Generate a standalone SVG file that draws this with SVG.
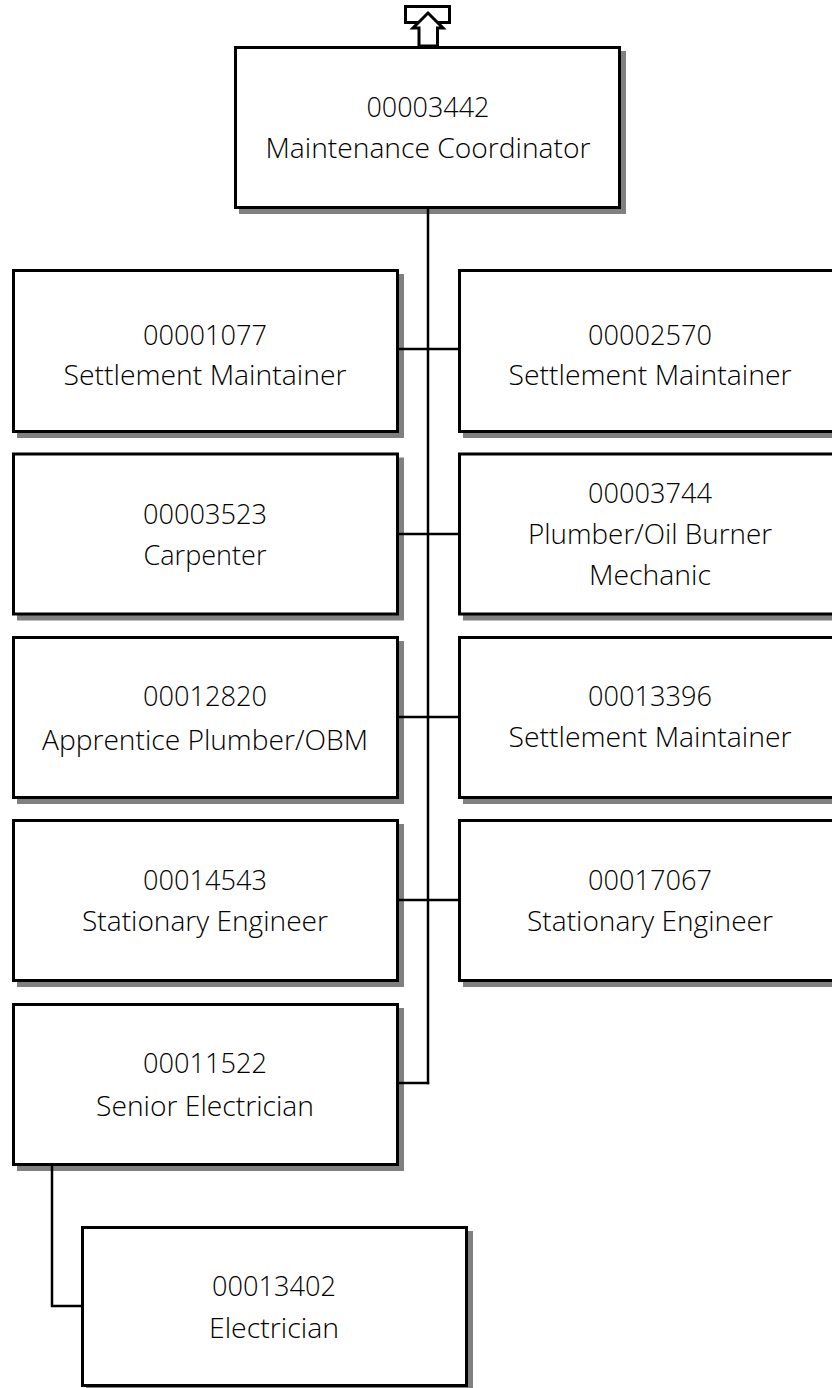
<svg xmlns="http://www.w3.org/2000/svg" width="832" height="1388" viewBox="0 0 832 1388">
<style>
.sh{fill:#808080}
.bx{fill:#fff;stroke:#000;stroke-width:3}
.t{font-family:"Open Sans","Liberation Sans",sans-serif;font-weight:300;font-size:27px;fill:#000;text-anchor:middle}
.c{fill:none;stroke:#000;stroke-width:2.5}
</style>
<rect width="832" height="1388" fill="#fff"/>
<g id="n00003442">
<rect class="sh" x="239" y="51" width="387" height="163"/>
<rect class="bx" x="235.5" y="47.5" width="384" height="160"/>
<text class="t" x="428" y="117" textLength="123" lengthAdjust="spacingAndGlyphs">00003442</text>
<text class="t" x="428" y="158" textLength="325" lengthAdjust="spacingAndGlyphs">Maintenance Coordinator</text>
</g>
<g id="n00001077">
<rect class="sh" x="17" y="274" width="387" height="164"/>
<rect class="bx" x="13.5" y="270.5" width="384" height="161"/>
<text class="t" x="205" y="345" textLength="124" lengthAdjust="spacingAndGlyphs">00001077</text>
<text class="t" x="205" y="385" textLength="283" lengthAdjust="spacingAndGlyphs">Settlement Maintainer</text>
</g>
<g id="n00002570">
<rect class="sh" x="463" y="274" width="387" height="164"/>
<rect class="bx" x="459.5" y="270.5" width="384" height="161"/>
<text class="t" x="650" y="345" textLength="124" lengthAdjust="spacingAndGlyphs">00002570</text>
<text class="t" x="650" y="385" textLength="283" lengthAdjust="spacingAndGlyphs">Settlement Maintainer</text>
</g>
<g id="n00003523">
<rect class="sh" x="17" y="457.5" width="387" height="163"/>
<rect class="bx" x="13.5" y="454" width="384" height="160"/>
<text class="t" x="205" y="524" textLength="124" lengthAdjust="spacingAndGlyphs">00003523</text>
<text class="t" x="205" y="565" textLength="123" lengthAdjust="spacingAndGlyphs">Carpenter</text>
</g>
<g id="n00003744">
<rect class="sh" x="463" y="457.5" width="387" height="163"/>
<rect class="bx" x="459.5" y="454" width="384" height="160"/>
<text class="t" x="650" y="503" textLength="124" lengthAdjust="spacingAndGlyphs">00003744</text>
<text class="t" x="650" y="544" textLength="244" lengthAdjust="spacingAndGlyphs">Plumber/Oil Burner</text>
<text class="t" x="650" y="585" textLength="122" lengthAdjust="spacingAndGlyphs">Mechanic</text>
</g>
<g id="n00012820">
<rect class="sh" x="17" y="641" width="387" height="163"/>
<rect class="bx" x="13.5" y="637.5" width="384" height="160"/>
<text class="t" x="205" y="706" textLength="124" lengthAdjust="spacingAndGlyphs">00012820</text>
<text class="t" x="205" y="750" textLength="326" lengthAdjust="spacingAndGlyphs">Apprentice Plumber/OBM</text>
</g>
<g id="n00013396">
<rect class="sh" x="463" y="641" width="387" height="163"/>
<rect class="bx" x="459.5" y="637.5" width="384" height="160"/>
<text class="t" x="650" y="706" textLength="124" lengthAdjust="spacingAndGlyphs">00013396</text>
<text class="t" x="650" y="747" textLength="283" lengthAdjust="spacingAndGlyphs">Settlement Maintainer</text>
</g>
<g id="n00014543">
<rect class="sh" x="17" y="824" width="387" height="163"/>
<rect class="bx" x="13.5" y="820.5" width="384" height="160"/>
<text class="t" x="205" y="890" textLength="124" lengthAdjust="spacingAndGlyphs">00014543</text>
<text class="t" x="205" y="931" textLength="246" lengthAdjust="spacingAndGlyphs">Stationary Engineer</text>
</g>
<g id="n00017067">
<rect class="sh" x="463" y="824" width="387" height="163"/>
<rect class="bx" x="459.5" y="820.5" width="384" height="160"/>
<text class="t" x="650" y="890" textLength="124" lengthAdjust="spacingAndGlyphs">00017067</text>
<text class="t" x="650" y="931" textLength="246" lengthAdjust="spacingAndGlyphs">Stationary Engineer</text>
</g>
<g id="n00011522">
<rect class="sh" x="17" y="1008" width="387" height="163"/>
<rect class="bx" x="13.5" y="1004.5" width="384" height="160"/>
<text class="t" x="205" y="1073" textLength="124" lengthAdjust="spacingAndGlyphs">00011522</text>
<text class="t" x="205" y="1116" textLength="218" lengthAdjust="spacingAndGlyphs">Senior Electrician</text>
</g>
<g id="n00013402">
<rect class="sh" x="86" y="1231" width="387" height="163"/>
<rect class="bx" x="82.5" y="1227.5" width="384" height="158"/>
<text class="t" x="274" y="1296" textLength="124" lengthAdjust="spacingAndGlyphs">00013402</text>
<text class="t" x="274" y="1338" textLength="130" lengthAdjust="spacingAndGlyphs">Electrician</text>
</g>
<g id="connectors">
<line class="c" x1="428" y1="209" x2="428" y2="1084.2"/>
<line class="c" x1="399" y1="349" x2="458" y2="349"/>
<line class="c" x1="399" y1="534" x2="458" y2="534"/>
<line class="c" x1="399" y1="717" x2="458" y2="717"/>
<line class="c" x1="399" y1="900" x2="458" y2="900"/>
<line class="c" x1="399" y1="1083" x2="429.2" y2="1083"/>
<polyline class="c" points="52,1166 52,1306 81,1306"/>
</g>
<g id="up-icon">
<rect x="405.5" y="6.5" width="44" height="16" fill="#fff" stroke="#000" stroke-width="3"/>
<polygon points="428,13 443,28 437.5,28 437.5,46 419,46 419,28 413,28" fill="#fff" stroke="#000" stroke-width="3" stroke-linejoin="miter"/>
</g>
</svg>
